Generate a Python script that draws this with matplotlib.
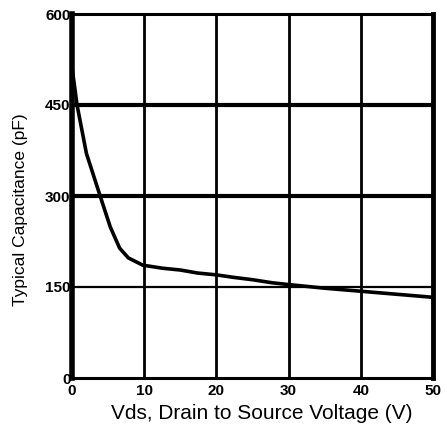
import matplotlib
matplotlib.use("Agg")
import matplotlib.pyplot as plt

# Vds (V) vs typical capacitance (pF)
vds = [0, 0.7, 2.0, 3.9, 5.3, 6.6, 7.8, 9.8, 12.5, 15, 17.4, 20, 22.3, 25, 27.7, 30, 35, 40, 45, 50]
cap = [512, 450, 370, 300, 249, 214, 198, 186, 181, 178, 173, 170, 166, 162, 157, 154, 148, 143, 138, 133]

xticks = [0, 10, 20, 30, 40, 50]
yticks = [0, 150, 300, 450, 600]

plt.rcParams['font.family'] = ['Liberation Sans', 'DejaVu Sans']

fig = plt.figure(figsize=(4.47, 4.25), dpi=100)
ax = fig.add_axes([72 / 447, 47 / 425, 361 / 447, 364 / 425])

ax.plot(vds, cap, color='black', lw=2.6, solid_capstyle='butt', zorder=3)

ax.set_xlim(0, 50)
ax.set_ylim(0, 600)
ax.set_xticks(xticks)
ax.set_yticks(yticks)

# grid lines: 300 and 450 are heavier than 150
for v in xticks[1:-1]:
    ax.axvline(v, color='black', lw=2, zorder=1)
for h, w in [(150, 1.6), (300, 3), (450, 3)]:
    ax.axhline(h, color='black', lw=w, zorder=1)

ax.spines['left'].set_linewidth(4)
ax.spines['right'].set_linewidth(3.5)
ax.spines['top'].set_linewidth(2.2)
ax.spines['bottom'].set_linewidth(2.2)

ax.tick_params(axis='x', length=0, pad=4)
ax.tick_params(axis='y', length=0, pad=1)
for lab in ax.get_xticklabels() + ax.get_yticklabels():
    lab.set_fontweight('bold')
    lab.set_fontsize(11)

ax.set_xlabel('Vds, Drain to Source Voltage (V)', fontsize=15)
ax.xaxis.set_label_coords((262 - 72) / 361, -26 / 364)
ax.set_ylabel('Typical Capacitance (pF)', fontsize=12.5)
ax.yaxis.set_label_coords(-44 / 361, (425 - 210 - 47) / 364)

fig.savefig('out.png', dpi=100)
